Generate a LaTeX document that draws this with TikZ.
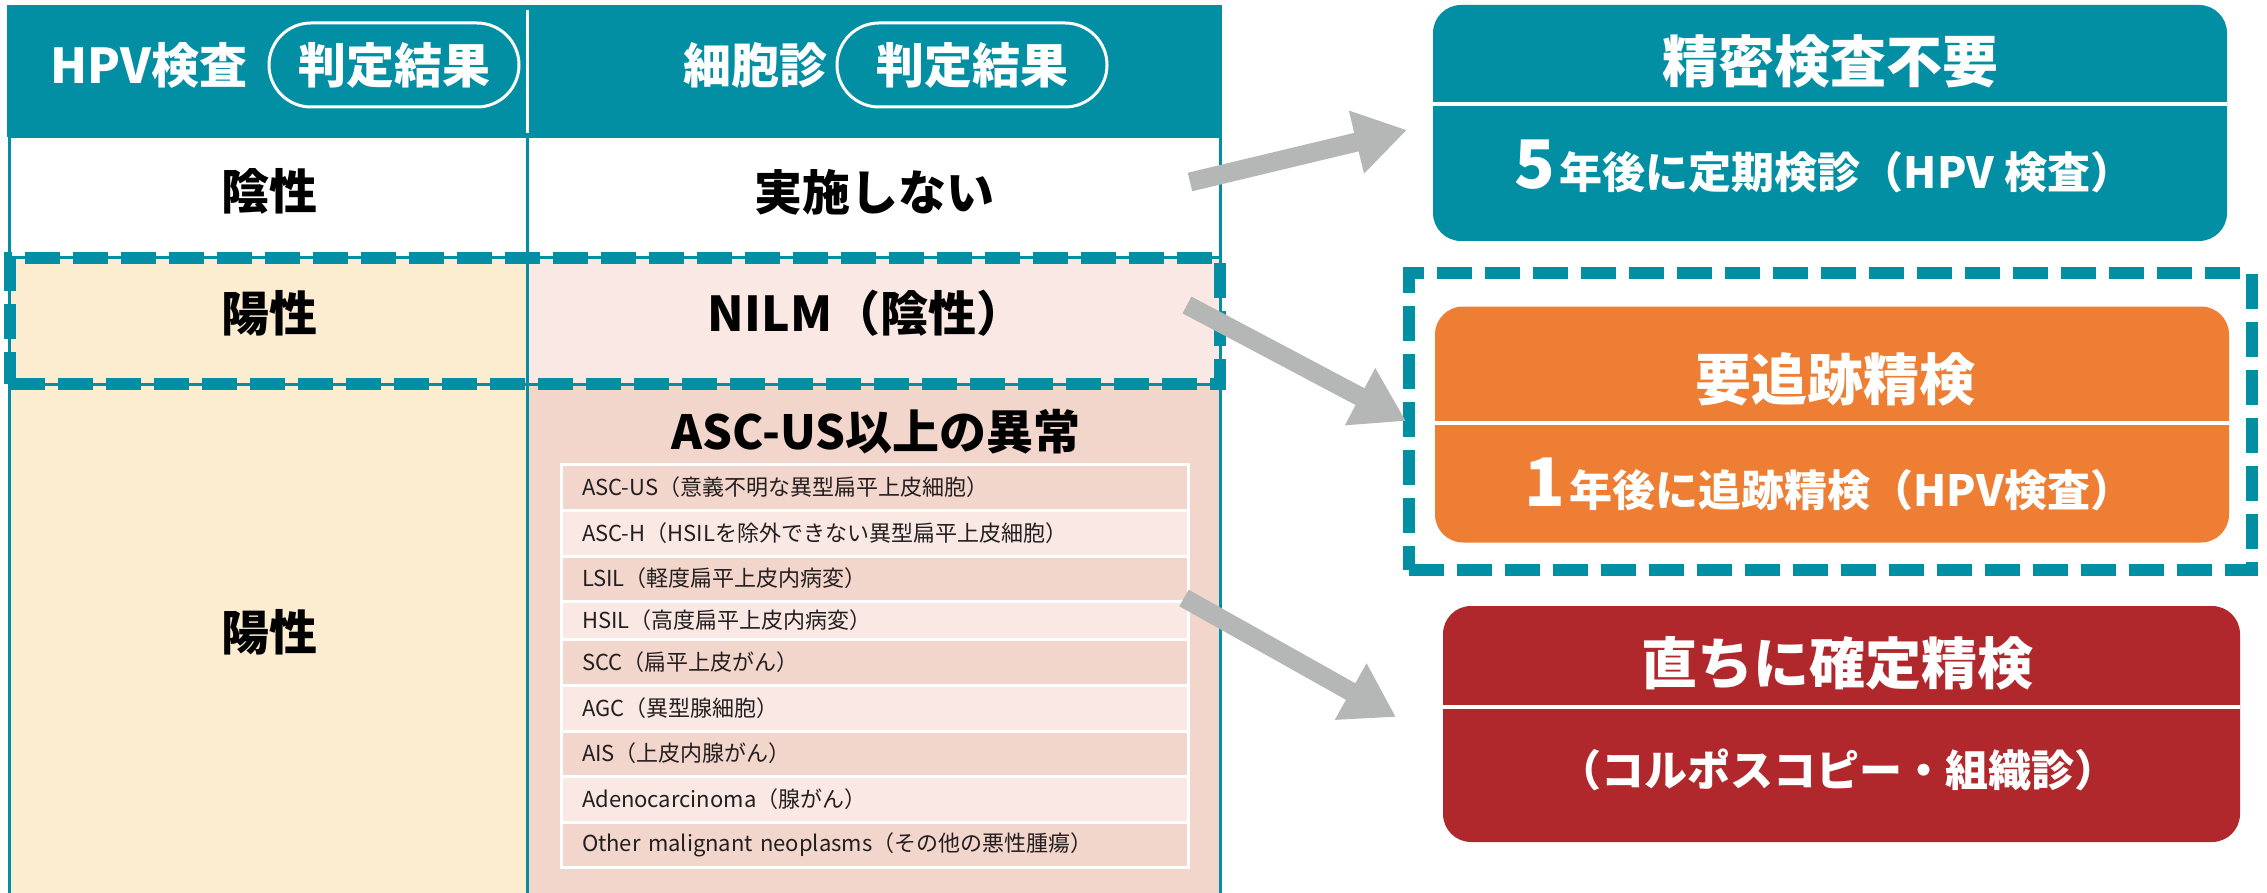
\documentclass[tikz,border=0pt]{standalone}
\usepackage{fontspec}
\setmainfont{Noto Sans CJK JP}
\usepackage{tikz}
\usetikzlibrary{arrows.meta,positioning,calc}

\definecolor{hpvteal}{HTML}{028EA3}
\definecolor{fuorange}{HTML}{ED7E33}
\definecolor{nowred}{HTML}{B0282C}
\definecolor{arrowgray}{HTML}{B5B7B6}
\definecolor{posyellow}{HTML}{FCEDD0}
\definecolor{nilmpink}{HTML}{FAE8E4}
\definecolor{ascpink}{HTML}{F2D5CB}
\definecolor{listtext}{HTML}{231F20}

\newcommand{\bignum}[1]{{\fontsize{67pt}{67pt}\selectfont #1}\hspace{4pt}}

\begin{document}
\begin{tikzpicture}[x=1pt, y=-1pt, >=Triangle]
    \tikzstyle{hdcell}=[fill=hpvteal,inner sep=0pt,minimum height=132pt]
    \tikzstyle{cell}=[draw=hpvteal,line width=3pt,inner sep=0pt]
    \tikzstyle{hdtext}=[text=white,font=\fontsize{48pt}{52pt}\selectfont\bfseries]
    \tikzstyle{pill}=[hdtext,draw=white,line width=3pt,rounded corners=42pt,minimum height=84pt,inner sep=0pt]
    \tikzstyle{bodytext}=[text=black,font=\fontsize{48pt}{52pt}\selectfont\bfseries]
    \tikzstyle{listrow}=[draw=white,line width=3pt,minimum width=627pt,inner xsep=21pt,inner ysep=0pt,
        text width=585pt,align=left,text=listtext,font=\fontsize{22pt}{24pt}\selectfont]
    \tikzstyle{dashbox}=[draw=hpvteal,line width=12pt,dash pattern=on 35pt off 13pt,inner sep=0pt]
    \tikzstyle{resbox}=[rounded corners=28pt,minimum width=794pt,minimum height=236pt,inner sep=0pt]
    \tikzstyle{restitle}=[text=white,font=\fontsize{56pt}{60pt}\selectfont\bfseries]
    \tikzstyle{ressub}=[text=white,font=\fontsize{43pt}{47pt}\selectfont\bfseries]
    \tikzstyle{divline}=[draw=white,line width=4pt]
    \tikzstyle{bigarrow}=[draw=arrowgray,line width=19pt,-{Triangle[length=52pt,width=61pt]}]

    \fill[white] (0,0) rectangle (2267,893);
    \useasboundingbox (0,0) rectangle (2267,893);

    % header
    \node[hdcell,minimum width=520pt]   (hd1) at (267,71)   {};
    \node[hdcell,minimum width=695pt]   (hd2) at (874.5,71) {};
    \draw[white,line width=3pt] (hd1.east |- 0,10) -- (hd1.east |- 0,133);
    \node[hdtext]                       (hpv)   at (149,65) {HPV検査};
    \node[pill,minimum width=250pt]     (pill1) at (394,65) {判定結果};
    \node[hdtext]                       (cyto)  at (755,65) {細胞診};
    \node[pill,minimum width=270pt]     (pill2) at (972,65) {判定結果};

    % table body
    \node[cell,fill=white,minimum width=518pt,minimum height=121pt]     (c1a) at (268,197.5)   {};
    \node[cell,fill=white,minimum width=693pt,minimum height=121pt]     (c1b) at (873.5,197.5) {};
    \node[cell,fill=posyellow,minimum width=518pt,minimum height=126pt] (c2a) at (268,321)     {};
    \node[cell,fill=nilmpink,minimum width=693pt,minimum height=126pt]  (c2b) at (873.5,321)   {};
    \node[cell,fill=posyellow,minimum width=518pt,minimum height=512pt] (c3a) at (268,640)     {};
    \node[cell,fill=ascpink,minimum width=693pt,minimum height=512pt]   (c3b) at (873.5,640)   {};

    \node[bodytext] (neg)   at (269,191) {陰性};
    \node[bodytext] (none)  at (874,192) {実施しない};
    \node[bodytext] (pos1)  at (269,313) {陽性};
    \node[bodytext] (nilm)  at (866,313) {NILM（陰性）};
    \node[bodytext] (pos2)  at (269,632) {陽性};
    \node[bodytext,font=\fontsize{47pt}{51pt}\selectfont\bfseries] (ascus) at (876,432) {ASC-US以上の異常};

    \foreach \yc/\h/\col/\txt [count=\i] in {
        487/46pt/ascpink/{ASC-US（意義不明な異型扁平上皮細胞）},
        533/46pt/nilmpink/{ASC-H（HSILを除外できない異型扁平上皮細胞）},
        578.5/45pt/ascpink/{LSIL（軽度扁平上皮内病変）},
        620/38pt/nilmpink/{HSIL（高度扁平上皮内病変）},
        662/46pt/ascpink/{SCC（扁平上皮がん）},
        708/46pt/nilmpink/{AGC（異型腺細胞）},
        753.5/45pt/ascpink/{AIS（上皮内腺がん）},
        799/46pt/nilmpink/{Adenocarcinoma（腺がん）},
        844.5/45pt/ascpink/{Other malignant neoplasms（その他の悪性腫瘍）}}
        \node[listrow,fill=\col,minimum height=\h] (li\i) at (874.5,\yc) {\txt};

    \node[dashbox,minimum width=1210pt,minimum height=126pt] (nilmbox) at (615,321) {};

    % results
    \node[resbox,fill=hpvteal]  (res1) at (1830,123)   {};
    \node[restitle]             (res1t) at (1830,61)   {精密検査不要};
    \node[ressub]               (res1s) at (1824,166)  {\bignum{5}年後に定期検診（HPV 検査）};
    \draw[divline] (res1.west |- 0,104) -- (res1.east |- 0,104);

    \node[dashbox,minimum width=843pt,minimum height=297pt] (fubox) at (1830.5,421.5) {};
    \node[resbox,fill=fuorange] (res2) at (1832,424.5) {};
    \node[restitle]             (res2t) at (1835,379)  {要追跡精検};
    \node[ressub]               (res2s) at (1829,484)  {\bignum{1}年後に追跡精検（HPV検査）};
    \draw[divline] (res2.west |- 0,423) -- (res2.east |- 0,423);

    \node[resbox,fill=nowred,minimum width=797pt] (res3) at (1841.5,724) {};
    \node[restitle]             (res3t) at (1837,663)  {直ちに確定精検};
    \node[ressub]               (res3s) at (1838,770)  {（コルポスコピー・組織診）};
    \draw[divline] (res3.west |- 0,707) -- (res3.east |- 0,707);

    % arrows
    \coordinate (a1s) at (1190,182);
    \coordinate (a1e) at (1407,130);
    \coordinate (a2s) at (1187,305);
    \coordinate (a2e) at (1406,421);
    \coordinate (a3s) at (1184,598);
    \coordinate (a3e) at (1396,717);
    \draw[bigarrow] (a1s) -- (a1e);
    \draw[bigarrow] (a2s) -- (a2e);
    \draw[bigarrow] (a3s) -- (a3e);
\end{tikzpicture}
\end{document}
